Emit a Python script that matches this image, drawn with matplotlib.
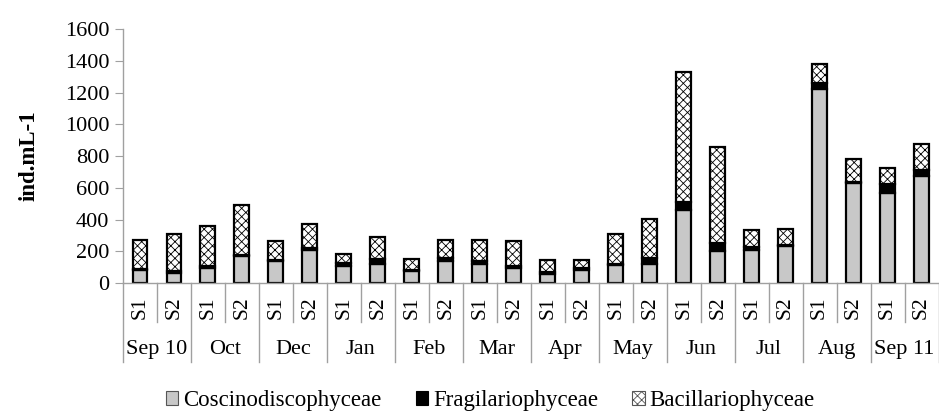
import numpy as np
import matplotlib
matplotlib.use("Agg")
import matplotlib.pyplot as plt
from matplotlib.patches import Patch

plt.rcParams['font.family'] = ['Liberation Serif', 'DejaVu Serif']
plt.rcParams['hatch.linewidth'] = 0.6

# data (ind.mL-1)
months = ["Sep 10", "Oct", "Dec", "Jan", "Feb", "Mar", "Apr", "May",
          "Jun", "Jul", "Aug", "Sep 11"]
stations = ["S1", "S2"]
coscino = [80, 65, 94, 170, 139, 206, 107, 122, 76, 139, 122, 97,
           59, 84, 111, 120, 458, 202, 210, 231, 1222, 632, 567, 672]
fragil = [10, 10, 15, 8, 8, 14, 22, 28, 8, 18, 15, 10,
          10, 10, 10, 38, 52, 52, 17, 10, 38, 4, 55, 42]
bacill = [180, 236, 252, 313, 120, 150, 56, 138, 67, 112, 136, 160,
          76, 51, 186, 245, 817, 603, 107, 99, 120, 143, 100, 164]

x = np.arange(len(coscino))
coscino = np.array(coscino)
fragil = np.array(fragil)
bacill = np.array(bacill)

fig = plt.figure(figsize=(9.39, 4.15), dpi=100)
ax = fig.add_axes([0.131, 0.318, 0.8685, 0.612])

w = 0.44
ax.bar(x, coscino, w, color="#c8c8c8", edgecolor="black", linewidth=1.6)
ax.bar(x, fragil, w, bottom=coscino, color="black", edgecolor="black", linewidth=1.6)
ax.bar(x, bacill, w, bottom=coscino + fragil, color="white", edgecolor="black",
       linewidth=1.6, hatch="xxxx")

ax.set_xlim(-0.5, len(x) - 0.5)
ax.set_ylim(0, 1600)
ax.set_yticks(range(0, 1601, 200))
ax.tick_params(axis="y", labelsize=16, length=6, color="#a0a0a0", pad=4)
ax.set_xticks([])
for s in ["top", "right"]:
    ax.spines[s].set_visible(False)
for s in ["left", "bottom"]:
    ax.spines[s].set_color("#a0a0a0")
    ax.spines[s].set_linewidth(1.0)

ax.set_ylabel("ind.mL-1", fontsize=16.5, fontweight="bold", labelpad=18)

# category axis: stations and months
tr = ax.get_xaxis_transform()
for i in range(len(x)):
    ax.text(x[i], -0.098, stations[i % 2], transform=tr, rotation=90,
            ha="center", va="center", fontsize=15.5)
    if i % 2 == 1:
        ax.plot([i - 0.5, i - 0.5], [0, -0.155], transform=tr, color="#a0a0a0",
                lw=1.0, clip_on=False)
for j, m in enumerate(months):
    ax.text(2 * j + 0.5, -0.26, m, transform=tr, ha="center", va="center",
            fontsize=16)
for j in range(len(months) + 1):
    ax.plot([2 * j - 0.5, 2 * j - 0.5], [0, -0.311], transform=tr,
            color="#a0a0a0", lw=1.0, clip_on=False)

handles = [Patch(facecolor="#c8c8c8", edgecolor="#555555", lw=0.8),
           Patch(facecolor="black", edgecolor="black", lw=0.8),
           Patch(facecolor="white", edgecolor="#555555", lw=0.8, hatch="xxxx")]
fig.legend(handles, ["Coscinodiscophyceae", "Fragilariophyceae", "Bacillariophyceae"],
           loc="center", bbox_to_anchor=(0.522, 0.035), ncol=3, frameon=False,
           fontsize=16.5, handlelength=0.55, handleheight=0.55, handletextpad=0.2,
           columnspacing=1.5)

fig.savefig("out.png", dpi=100)
